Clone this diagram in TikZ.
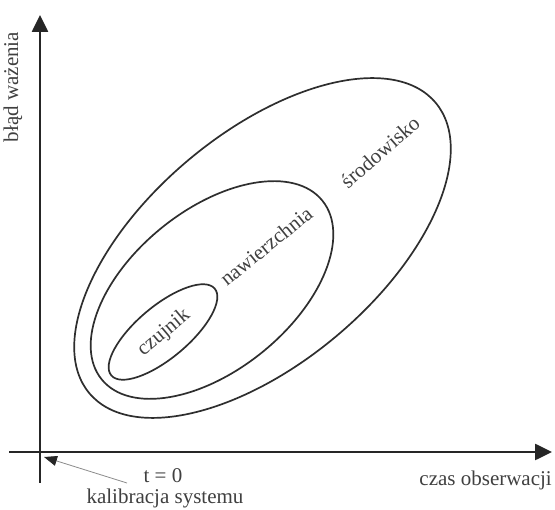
\documentclass[tikz,border=0pt]{standalone}
\usepackage{fontspec}
\setmainfont{Liberation Serif}
\usetikzlibrary{arrows.meta}
\begin{document}
\begin{tikzpicture}[x=1pt,y=-1pt,
  curve/.style={line width=1.7pt, draw=black!82},
  axisline/.style={line width=2.6pt, draw=black!85},
  lbl/.style={font=\fontsize{21}{24}\selectfont, text=black!75, inner sep=0pt},
]
\useasboundingbox (0,0) rectangle (555,510);
\fill[white] (0,0) rectangle (555,510);
% axes
\coordinate (yb) at (40,483);
\coordinate (yt) at (40,15);
\coordinate (xl) at (9,452);
\coordinate (xr) at (552,452);
\draw[axisline, -{Triangle[length=17pt,width=16pt]}] (yb) -- (yt);
\draw[axisline, -{Triangle[length=17pt,width=16pt]}] (xl) -- (xr);
% outer region
\draw[curve, rotate around={40:(262.5,248)}] (262.5,248) ellipse [x radius=226, y radius=115];
% middle region
\draw[curve, rotate around={39:(212,290)}] (212,290) ellipse [x radius=142, y radius=80];
% inner region
\draw[curve, rotate around={40:(163,332)}] (163,332) ellipse [x radius=67.5, y radius=26];
% labels
\node[lbl, rotate=90] (ylab) at (13,87) {błąd ważenia};
\node[lbl] (t0) at (163,476) {t = 0};
\node[lbl] (kal) at (165,498) {kalibracja systemu};
\node[lbl, anchor=east] (czas) at (552,480) {czas obserwacji};
\node[lbl, rotate=40] (czu) at (164,333) {czujnik};
\node[lbl, rotate=39] (naw) at (266,246) {nawierzchnia};
\node[lbl, rotate=41] (sro) at (380,152) {środowisko};
% pointer
\coordinate (ptrs) at (127,483);
\coordinate (ptrt) at (44,457);
\draw[line width=0.8pt, draw=black!45, -{Triangle[length=13pt,width=10pt,color=black!85]}] (ptrs) -- (ptrt);
\end{tikzpicture}
\end{document}
